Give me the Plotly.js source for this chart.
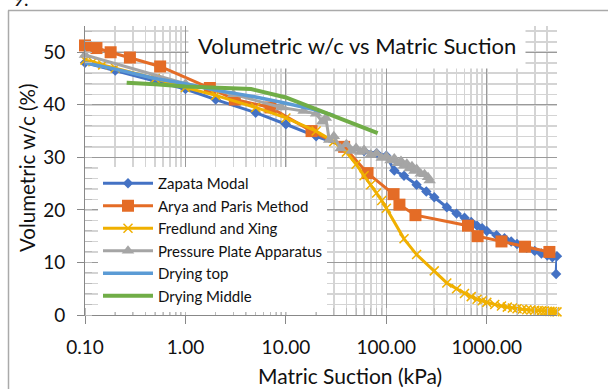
<!DOCTYPE html>
<html>
<head>
<meta charset="utf-8">
<script src="https://cdn.plot.ly/plotly-3.0.1.min.js"></script>
<style>html,body{margin:0;padding:0;background:#fff;}#chart{width:608px;height:389px;}</style>
</head>
<body>
<div id="chart"></div>
<script>
// ---- data ----
const zapataX = [0.1, 0.2, 0.5, 1, 2, 5, 10, 20, 40, 60, 80, 100, 120, 150, 200, 250, 300, 400, 500, 600, 700, 800, 900, 1000, 1250, 1500, 1750, 2000, 2500, 3000, 3500, 4000, 4500, 5000, 4900];
const zapataY = [48, 46.5, 44.5, 43, 41, 38.5, 36.3, 34, 32, 31.2, 30.8, 30.3, 27.5, 26.5, 24.8, 23.5, 22.4, 20.5, 19.3, 18.5, 17.7, 17, 16.5, 16, 15.2, 14.6, 14, 13.5, 12.8, 12.2, 11.7, 11.3, 11, 11.2, 7.8];

const aryaX = [0.1, 0.13, 0.18, 0.28, 0.56, 1.75, 3.1, 7, 18, 38, 65, 118, 135, 195, 650, 810, 1400, 2400, 4200];
const aryaY = [51.3, 50.8, 50, 49, 47.3, 43.2, 41, 39.5, 35, 32, 27, 23, 21, 19, 17, 15, 14, 13, 12];

const fredX = [0.1, 0.12, 0.15, 0.2, 0.5, 1, 2, 5, 10, 20, 30, 40, 50, 60, 70, 80, 90, 100, 150, 200, 300, 400, 500, 600, 700, 800, 900, 1000, 1200, 1400, 1600, 1800, 2000, 2250, 2500, 2750, 3000, 3250, 3500, 3750, 4000, 4250, 4500, 4750, 5000];
const fredY = [48.5, 48.2, 47.6, 47, 45, 43.3, 41.8, 39.5, 37.5, 35, 33, 31, 28.7, 26.5, 24.8, 23.2, 21.8, 20.3, 14.5, 11.5, 8.4, 6.1, 5.0, 4.1, 3.5, 3.0, 2.7, 2.4, 2.0, 1.7, 1.5, 1.35, 1.2, 1.1, 1.0, 0.95, 0.9, 0.85, 0.8, 0.76, 0.72, 0.69, 0.66, 0.63, 0.6];

const plateX = [0.1, 1, 3, 9, 15, 20, 23, 25, 27, 30, 35, 40, 45, 50, 55, 60, 70, 80, 90, 100, 110, 120, 130, 140, 150, 160, 170, 180, 190, 200, 220, 240, 260, 270];
const plateY = [49.5, 44, 42, 39.5, 38.8, 38.3, 36.8, 37.5, 33.3, 34, 31.7, 32.5, 31.2, 31.8, 31, 31.4, 30.5, 30.8, 29.9, 30.2, 29.4, 29.8, 28.9, 29.3, 28.4, 28.8, 27.9, 28.3, 27.4, 27.8, 26.9, 26.8, 26.2, 25.6];

const dryTopX = [0.1, 0.2, 0.5, 1, 2, 5, 10, 20, 30];
const dryTopY = [48, 46.8, 45, 44, 42.8, 41.5, 40.3, 39, 38];

const dryMidX = [0.26, 0.35, 0.5, 1, 2, 4.5, 10, 21, 30, 46, 68, 82];
const dryMidY = [44.2, 44.1, 43.9, 43.5, 43.2, 43, 41.4, 39, 38, 36.5, 35.2, 34.6];

const seriesNames = ["Zapata Modal", "Arya and Paris Method", "Fredlund and Xing", "Pressure Plate Apparatus", "Drying top", "Drying Middle"];
const xTickVals = [0.1, 1, 10, 100, 1000];
const xTickText = ["0.10", "1.00", "10.00", "100.00", "1000.00"];
const yTickVals = [0, 10, 20, 30, 40, 50];
const chartTitle = "Volumetric w/c vs Matric Suction";
const xTitle = "Matric Suction (kPa)";
const yTitle = "Volumetric w/c (%)";

// ---- styles ----
const FONT = "Lato, 'Open Sans', sans-serif";
const colors = ["#4472C4", "#E46C26", "#F0B000", "#A5A5A5", "#5B9BD5", "#70AD47"];

const traces = [
  {x: zapataX, y: zapataY, mode: "lines+markers", line: {color: colors[0], width: 3},
   marker: {symbol: "diamond", size: 8, color: colors[0]}},
  {x: aryaX, y: aryaY, mode: "lines+markers", line: {color: colors[1], width: 3},
   marker: {symbol: "square", size: 12, color: colors[1]}},
  {x: fredX, y: fredY, mode: "lines+markers", line: {color: colors[2], width: 3},
   marker: {symbol: "x-thin", size: 9, color: colors[2], line: {color: colors[2], width: 1.5}}},
  {x: plateX, y: plateY, mode: "lines+markers", line: {color: colors[3], width: 3},
   marker: {symbol: "triangle-up", size: 11, color: colors[3]}},
  {x: dryTopX, y: dryTopY, mode: "lines", line: {color: colors[4], width: 3.5}},
  {x: dryMidX, y: dryMidY, mode: "lines", line: {color: colors[5], width: 4}}
].map((t, i) => Object.assign(t, {type: "scatter", name: seriesNames[i], cliponaxis: false, legendgroup: "g" + i}));

const L = 85, R = 557, T = 26, B = 315;
const W = R - L, H = B - T;
const px = v => (v - L) / W;
const py = v => (B - v) / H;

const layout = {
  width: 608, height: 389,
  margin: {l: L, r: 608 - R, t: T, b: 389 - B},
  paper_bgcolor: "#fff", plot_bgcolor: "#fff",
  font: {family: FONT, color: "#111"},
  showlegend: true,
  legend: {
    x: px(98), y: py(167), xanchor: "left", yanchor: "top",
    bgcolor: "#fff", borderwidth: 0, itemwidth: 50,
    font: {family: FONT, size: 15, color: "#111"},
    traceorder: "grouped", tracegroupgap: 0
  },
  xaxis: {
    type: "log", range: [-1, Math.log10(5000)],
    tickvals: xTickVals, ticktext: xTickText,
    ticks: "outside", ticklen: 8, tickcolor: "#888", tickwidth: 1,
    tickfont: {family: FONT, size: 19, color: "#111"},
    ticklabelstandoff: 7,
    showline: true, linecolor: "#888", linewidth: 1,
    showgrid: true, gridcolor: "#9a9a9a", gridwidth: 1,
    zeroline: false,
    minor: {dtick: "D1", ticks: "inside", ticklen: 7, tickcolor: "#bbb",
            showgrid: true, gridcolor: "#d4d4d4", gridwidth: 1.6}
  },
  yaxis: {
    range: [0, 55], tickvals: yTickVals,
    ticks: "outside", ticklen: 7, tickcolor: "#888", tickwidth: 1,
    tickfont: {family: FONT, size: 19, color: "#111"},
    ticklabelstandoff: 8,
    showline: true, linecolor: "#888", linewidth: 1,
    showgrid: true, gridcolor: "#9a9a9a", gridwidth: 1,
    zeroline: false,
    minor: {dtick: 2, ticks: "inside", ticklen: 7, tickcolor: "#bbb",
            showgrid: true, gridcolor: "#d4d4d4", gridwidth: 1.6}
  },
  annotations: [
    {text: chartTitle, xref: "paper", yref: "paper", x: px(357), y: py(46),
     xanchor: "center", yanchor: "middle", showarrow: false,
     font: {family: FONT, size: 22, color: "#111"}, bgcolor: "#fff", borderpad: 9},
    {text: xTitle, xref: "paper", yref: "paper", x: px(350), y: py(375),
     xanchor: "center", yanchor: "middle", showarrow: false,
     font: {family: FONT, size: 21, color: "#111"}},
    {text: yTitle, xref: "paper", yref: "paper", x: px(27), y: py(168), textangle: -90,
     xanchor: "center", yanchor: "middle", showarrow: false,
     font: {family: FONT, size: 20.5, color: "#111"}},
    {text: "9.", xref: "paper", yref: "paper", x: px(11), y: py(-2),
     xanchor: "left", yanchor: "middle", showarrow: false,
     font: {family: FONT, size: 19, color: "#111"}}
  ],
  shapes: [
    {type: "line", xref: "paper", yref: "paper", x0: px(8), x1: px(610), y0: py(10.5), y1: py(10.5),
     line: {color: "#aaa", width: 1.5}},
    {type: "line", xref: "paper", yref: "paper", x0: px(8.5), x1: px(8.5), y0: py(10.5), y1: py(392),
     line: {color: "#aaa", width: 1.5}}
  ]
};

Plotly.newPlot("chart", traces, layout, {displayModeBar: false, staticPlot: true});
</script>
</body>
</html>
